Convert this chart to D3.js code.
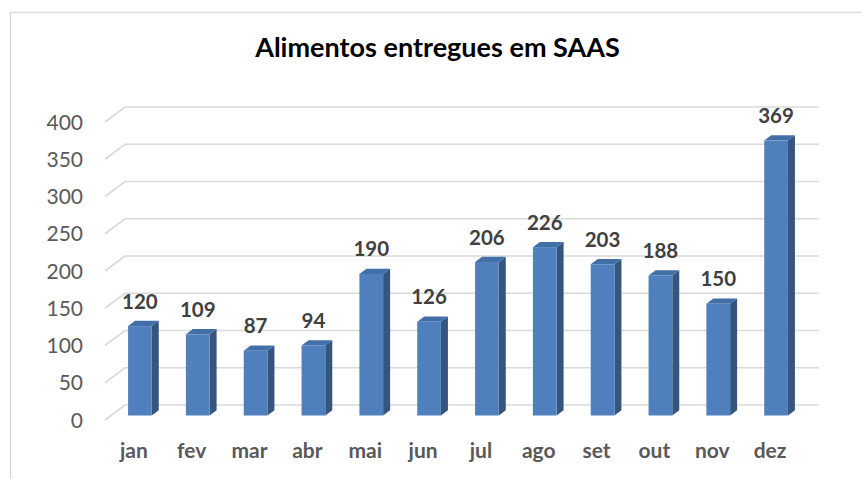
<!DOCTYPE html>
<html>
<head>
<meta charset="utf-8">
<script src="https://cdn.jsdelivr.net/npm/d3@7"></script>
<style>
  html, body { margin: 0; padding: 0; background: #fff; }
  svg { display: block; }
  text { font-family: Lato, "Open Sans", sans-serif; }
</style>
</head>
<body>
<svg id="chart" width="862" height="479"></svg>
<script>
const title = "Alimentos entregues em SAAS";
const months = ["jan", "fev", "mar", "abr", "mai", "jun", "jul", "ago", "set", "out", "nov", "dez"];
const values = [120, 109, 87, 94, 190, 126, 206, 226, 203, 188, 150, 369];
const yTicks = [0, 50, 100, 150, 200, 250, 300, 350, 400];

const svg = d3.select("#chart");
const W = 862, H = 479;

// back wall geometry
const wallLeft = 125, wallRight = 819;
const x = d3.scaleBand().domain(months).range([wallLeft, wallRight]).padding(0);
const y = d3.scaleLinear().domain([0, 400]).range([405, 107]);

// depth projection: z=0 back wall, z=1 front edge
const DX = -20, DY = 15;
const proj = (px, py, z) => [px + DX * z, py + DY * z];

// chart frame
svg.append("rect")
  .attr("x", 10.5).attr("y", 12.5)
  .attr("width", W + 20).attr("height", H + 20)
  .attr("fill", "none").attr("stroke", "#d9d9d9").attr("stroke-width", 1.3);

// gridlines (floor diagonal + back wall)
const grid = svg.append("g");
yTicks.forEach(v => {
  const [fx, fy] = proj(wallLeft, y(v), 1);
  grid.append("path")
    .attr("d", `M${fx},${fy} L${wallLeft},${y(v)} L${wallRight},${y(v)}`)
    .attr("fill", "none").attr("stroke", "#d9d9d9").attr("stroke-width", 1.6);
});

// y axis labels (aligned with the front edge)
svg.append("g").selectAll("text").data(yTicks).join("text")
  .attr("x", 83)
  .attr("y", d => proj(0, y(d), 1)[1])
  .attr("dy", "0.36em")
  .attr("text-anchor", "end")
  .attr("font-size", 21)
  .attr("fill", "#595959")
  .text(d => d);

// bars
const zFront = 0.7, zBack = 0.35;
const barW = x.bandwidth() * 0.41;
const bars = svg.append("g");
months.forEach((m, i) => {
  const cx = x(m) + x.bandwidth() / 2;
  const v = values[i];
  const [fl, fb] = proj(cx - barW / 2, y(0), zFront);
  const [, ft] = proj(cx, y(v), zFront);
  const fr = fl + barW;
  const ddx = DX * (zBack - zFront), ddy = DY * (zBack - zFront);
  // side face
  bars.append("path")
    .attr("d", `M${fr},${fb} L${fr + ddx},${fb + ddy} L${fr + ddx},${ft + ddy} L${fr},${ft} Z`)
    .attr("fill", "#35557f");
  // top face
  bars.append("path")
    .attr("d", `M${fl},${ft} L${fr},${ft} L${fr + ddx},${ft + ddy} L${fl + ddx},${ft + ddy} Z`)
    .attr("fill", "#436fa9");
  // front face
  bars.append("rect")
    .attr("x", fl).attr("y", ft)
    .attr("width", barW).attr("height", fb - ft)
    .attr("fill", "#4f80bd");
  // data label
  svg.append("text")
    .attr("x", fl + barW / 2)
    .attr("y", ft - 17.5)
    .attr("text-anchor", "middle")
    .attr("font-size", 20.5)
    .attr("font-weight", "bold")
    .attr("fill", "#404040")
    .text(v);
});

// category labels (front edge)
svg.append("g").selectAll("text").data(months).join("text")
  .attr("x", d => proj(x(d) + x.bandwidth() / 2, 0, 1)[0])
  .attr("y", 457.5)
  .attr("text-anchor", "middle")
  .attr("font-size", 21)
  .attr("font-weight", "bold")
  .attr("fill", "#595959")
  .text(d => d);

// title
const t = svg.append("text")
  .attr("x", 437.5).attr("y", 56.7)
  .attr("text-anchor", "middle")
  .attr("font-size", 24)
  .attr("font-weight", "bold")
  .attr("fill", "#000")
  .text(title);
const len = t.node().getComputedTextLength();
t.attr("font-size", 24 * 365 / len);
</script>
</body>
</html>
